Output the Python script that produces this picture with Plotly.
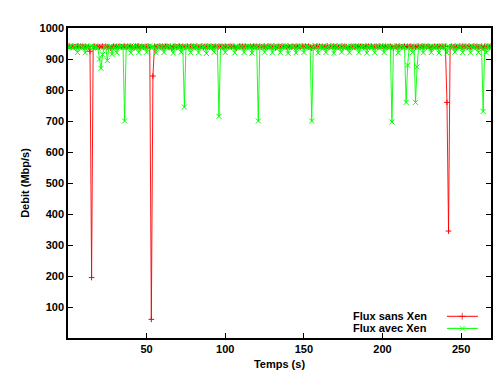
import plotly.graph_objects as go

# ---- data ----
temps = list(range(0, 270))

flux_sans_xen = [
    940, 941, 939, 941, 939, 940, 941, 939, 941, 940,
    939, 941, 939, 940, 925, 195, 940, 941, 939, 941,
    939, 940, 941, 939, 941, 939, 940, 935, 939, 941,
    940, 941, 939, 941, 939, 940, 941, 939, 941, 940,
    941, 939, 936, 941, 940, 941, 939, 941, 939, 940,
    940, 941, 939, 60, 845, 941, 939, 940, 941, 939,
    941, 939, 940, 941, 939, 941, 935, 940, 941, 939,
    940, 941, 939, 941, 939, 940, 941, 939, 941, 940,
    941, 939, 941, 939, 940, 941, 936, 941, 940, 941,
    939, 941, 939, 940, 941, 939, 941, 940, 941, 939,
    941, 939, 940, 941, 939, 941, 940, 935, 939, 941,
    940, 941, 939, 941, 939, 940, 941, 939, 941, 940,
    941, 939, 941, 939, 940, 941, 939, 941, 940, 941,
    939, 941, 936, 940, 941, 939, 941, 940, 941, 939,
    941, 939, 940, 941, 939, 941, 940, 941, 939, 941,
    940, 941, 939, 941, 939, 935, 941, 939, 941, 940,
    941, 939, 941, 939, 940, 941, 939, 941, 940, 941,
    939, 941, 939, 940, 941, 939, 941, 940, 936, 939,
    941, 939, 940, 941, 939, 941, 940, 941, 939, 941,
    940, 941, 939, 941, 939, 940, 941, 939, 941, 940,
    941, 939, 941, 939, 940, 941, 939, 935, 940, 941,
    939, 941, 939, 940, 941, 939, 941, 940, 941, 939,
    941, 939, 940, 941, 939, 941, 940, 941, 939, 941,
    940, 936, 939, 941, 939, 940, 941, 939, 941, 940,
    941, 760, 345, 940, 941, 939, 941, 939, 940, 941,
    939, 941, 940, 941, 939, 941, 939, 940, 941, 939,
    941, 939, 940, 941, 935, 941, 940, 941, 939, 941,
]

flux_avec_xen = [
    940, 938, 942, 936, 941, 939, 921, 940, 943, 937,
    938, 920, 941, 939, 936, 942, 938, 940, 937, 935,
    900, 870, 915, 938, 940, 895, 937, 941, 915, 939,
    936, 920, 940, 938, 942, 937, 700, 939, 941, 936,
    920, 940, 938, 943, 937, 921, 939, 941, 936, 940,
    922, 938, 942, 937, 940, 939, 920, 941, 938, 936,
    942, 921, 939, 937, 941, 938, 936, 919, 940, 942,
    938, 937, 922, 941, 745, 939, 936, 940, 921, 938,
    942, 937, 939, 920, 941, 936, 938, 942, 918, 940,
    937, 939, 941, 922, 938, 940, 715, 937, 941, 939,
    921, 938, 942, 936, 940, 937, 920, 941, 938, 939,
    936, 942, 921, 940, 937, 939, 941, 919, 938, 936,
    942, 700, 939, 940, 937, 922, 941, 938, 936, 942,
    920, 939, 937, 941, 938, 921, 940, 936, 942, 939,
    918, 937, 941, 940, 938, 920, 936, 942, 939, 937,
    921, 941, 938, 940, 936, 700, 939, 942, 937, 920,
    940, 938, 941, 936, 921, 939, 942, 937, 940, 919,
    938, 941, 936, 942, 922, 939, 937, 940, 938, 920,
    941, 936, 939, 942, 937, 921, 940, 938, 941, 936,
    919, 942, 939, 937, 940, 920, 938, 941, 936, 942,
    939, 921, 937, 940, 938, 941, 697, 939, 936, 942,
    920, 938, 941, 937, 940, 760, 880, 939, 936, 921,
    941, 760, 875, 938, 942, 937, 920, 940, 939, 936,
    942, 921, 938, 940, 937, 941, 919, 939, 936, 942,
    938, 920, 941, 937, 940, 939, 922, 936, 942, 938,
    940, 921, 937, 941, 939, 936, 920, 942, 938, 940,
    937, 921, 941, 939, 731, 938, 920, 942, 936, 940,
]

series_names = ["Flux sans Xen", "Flux avec Xen"]
x_ticks = [50, 100, 150, 200, 250]
y_ticks = [100, 200, 300, 400, 500, 600, 700, 800, 900, 1000]

RED = "#ff0000"
GREEN = "#00ff00"
FONT = "Liberation Sans"

fig = go.Figure()
fig.add_trace(go.Scatter(
    x=temps, y=flux_sans_xen, mode="lines+markers", name=series_names[0],
    line=dict(color=RED, width=0.9),
    marker=dict(symbol="cross-thin-open", size=4, line=dict(color=RED, width=1)),
    showlegend=False,
))
fig.add_trace(go.Scatter(
    x=temps, y=flux_avec_xen, mode="lines+markers", name=series_names[1],
    line=dict(color=GREEN, width=0.9),
    marker=dict(symbol="x-thin-open", size=5, line=dict(color=GREEN, width=1)),
    showlegend=False,
))

# gnuplot-style legend (text on the left, sample on the right)
leg_y = [0.070, 0.031]
for name, col, sym, yy in [(series_names[0], RED, "cross-thin-open", leg_y[0]),
                           (series_names[1], GREEN, "x-thin-open", leg_y[1])]:
    fig.add_trace(go.Scatter(
        x=[0.896, 0.932, 0.969], y=[yy, yy, yy], xaxis="x2", yaxis="y2",
        mode="lines+markers", line=dict(color=col, width=1),
        marker=dict(symbol=sym, size=[0, 5, 0], line=dict(color=col, width=1)),
        showlegend=False, hoverinfo="skip",
    ))
    fig.add_annotation(
        text="<b>%s</b>" % name, xref="paper", yref="paper",
        x=0.853, y=yy, xanchor="right", yanchor="middle", showarrow=False,
        font=dict(family=FONT, size=11, color="black"),
    )

axis_common = dict(
    showline=True, linecolor="black", linewidth=1.5, mirror="allticks",
    ticks="inside", ticklen=5, tickwidth=1, tickcolor="black",
    showgrid=False, zeroline=False,
    tickfont=dict(family=FONT, size=11, color="black", weight="bold"),
)

fig.update_layout(
    width=499, height=379,
    margin=dict(l=68, r=6, t=28, b=41),
    paper_bgcolor="white", plot_bgcolor="white",
    xaxis=dict(range=[0, 269], tickvals=x_ticks,
               title=dict(text="<b>Temps (s)</b>", font=dict(family=FONT, size=11, color="black"),
                          standoff=6),
               **axis_common),
    yaxis=dict(range=[0, 1000], tickvals=y_ticks,
               title=dict(text="<b>Debit (Mbp/s)</b>", font=dict(family=FONT, size=11, color="black"),
                          standoff=8),
               **axis_common),
    xaxis2=dict(overlaying="x", range=[0, 1], visible=False, fixedrange=True),
    yaxis2=dict(overlaying="y", range=[0, 1], visible=False, fixedrange=True),
)

fig.write_html("out.html")
